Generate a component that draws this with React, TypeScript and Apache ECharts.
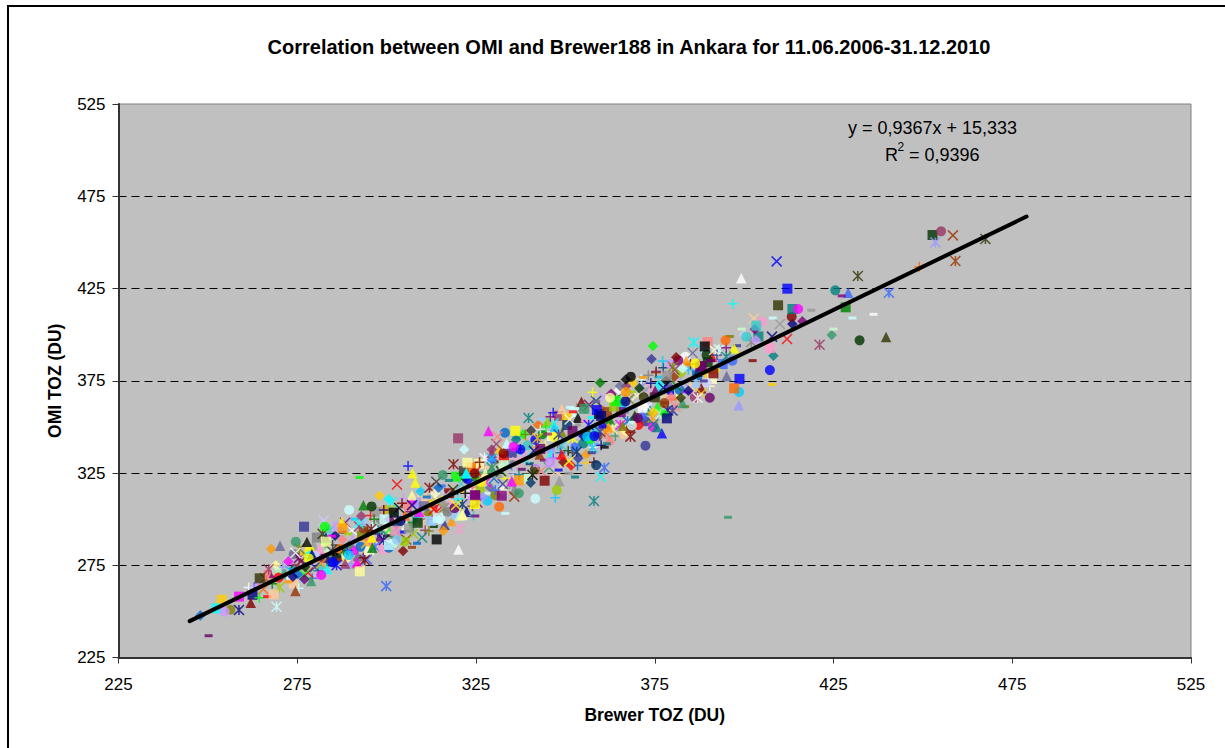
import React, { useEffect, useRef } from "react";
import * as echarts from "echarts";

const titleText = "Correlation between OMI and Brewer188 in Ankara for 11.06.2006-31.12.2010";
const xAxisName = "Brewer TOZ (DU)";
const yAxisName = "OMI TOZ (DU)";
const equationText = "y = 0,9367x + 15,333";
const r2Text = "= 0,9396";

const trendBrewer = [244.9, 479];
const trendOmi = [244.7, 464];

// Marks that can be told apart in the picture: [Brewer, OMI]
const squarePoints = [[452.7,454],[412.1,424.9],[409.5,415.9],[413.5,413.9],[428.4,414.8],[407.2,392.7],[389.8,396],[389,393.6],[391.4,379],[398.7,376],[397.2,370.9],[388.2,383],[403.4,404.9],[320,343.8],[336,347.9],[364.1,364],[355.3,359.8],[358.8,359.1],[360,355.9],[352,347.7],[345.8,330.6],[344.2,320.8],[378.4,377.7],[371.6,360.4],[378.4,354.6],[322.6,330.6],[332.7,329.3],[324.8,312.7],[332.2,312.7],[387.7,382.6],[276.9,295.9],[264.5,267.9],[253.9,256.3],[252.4,251.6],[258.7,258],[268.4,259.2],[292.5,271.7],[302,303.5],[302.4,293.7],[306.2,295],[308.7,298],[314.3,300.8],[299.4,299.9],[283,287.8],[287.7,295],[324.7,308.2],[324.7,313],[314,289],[300.6,286]];
const squareColors = ["#003300","#0000FF","#333300","#008080","#008000","#FF99CC","#FF8080","#000000","#800000","#0000FF","#FF6600","#660066","#33CCCC","#993366","#FFFF00","#00FF00","#339966","#0000FF","#000080","#660066","#CC99FF","#800000","#969696","#FFFFFF","#000080","#FFFF99","#CCFFCC","#660066","#800080","#660066","#333399","#333300","#FFCC00","#00FFFF","#FF00FF","#FFCC99","#FFFF99","#000000","#FF99CC","#969696","#003300","#CCFFFF","#CCFFFF","#FFFF99","#FF9900","#FFFF00","#800080","#000000","#CCFFFF"];

const circlePoints = [[455.1,456],[425.5,424],[413.3,409.7],[415.1,413.9],[432.3,396.9],[407.2,380.8],[400.6,398.9],[394.8,396.9],[398.6,368.9],[390.4,365.8],[389.5,374],[396.7,385.9],[333.1,346.8],[332.7,335.6],[337.4,337.8],[346.7,344.7],[356.1,344.7],[358.1,345],[362.5,365.8],[366.8,363.8],[366.9,368.9],[371.9,366],[377.7,362.9],[370.3,354.8],[368.6,350.8],[372.4,339.8],[347.6,315.8],[331.5,306.7],[341.6,311.1],[337,314],[324.6,324.8],[358.6,329.3],[315.7,323.9],[386.3,384.4],[335.5,339.2],[368.3,377.2],[256.3,250.9],[254.7,249.8],[295.8,306.9],[289.5,305],[282.7,295.9],[274.6,287.8],[281.7,269.7],[305,287.8],[300.6,284.5],[269.3,271.5],[269.8,268.3],[278.2,278.7],[285,276.6],[302.9,288.7],[289.4,280.5]];
const circleColors = ["#993366","#008080","#800000","#FF00FF","#003300","#0000FF","#33CCCC","#FF6600","#00CCFF","#660066","#CCCCFF","#3366FF","#0066CC","#800000","#0000FF","#FFFF00","#00CCFF","#0000FF","#FFFF99","#000080","#FF9900","#333300","#993300","#660066","#CCFFFF","#333399","#99CC00","#FF6600","#CCFFFF","#339966","#800000","#003366","#339966","#FFFF00","#FF00FF","#000000","#808000","#CC99FF","#003300","#CCFFFF","#00FF00","#339966","#FF00FF","#99CC00","#0066CC","#CCFFCC","#FF0000","#FFFF00","#0000FF","#99CCFF","#00CCFF"];

const trianglePoints = [[399.2,430.5],[429.1,422.7],[439.7,398.7],[397.2,392.6],[395.1,377.6],[398.5,361.7],[328.5,347.7],[349,359.7],[354.5,363.6],[362.1,349.7],[366,350.6],[377,346.5],[375.6,350],[383.8,385.7],[375.1,369.6],[348.3,320.6],[335,320.5],[322.2,324.8],[349,335],[321.2,302.2],[327.6,324.8],[329.4,327.5],[387,379.9],[320.1,283.6],[270.2,285.6],[262,254.7],[274.5,261],[278.9,266.5],[288.4,276],[291.7,276.6],[296,284.5],[293.5,307.5],[307.2,324.8],[308,319.8],[322.3,324.8],[321.3,302.6],[277.7,287.8],[279.1,281.1],[287.5,298.6]];
const triangleColors = ["#FFFFFF","#3366FF","#333300","#FFFF00","#666699","#9999FF","#FF00FF","#FFCC99","#800000","#FF9900","#808000","#0000FF","#008080","#FF9900","#660066","#969696","#FF00FF","#00FFFF","#FF0000","#FFFF99","#FFFF99","#339966","#003366","#FFFFFF","#666699","#800000","#993300","#339966","#993366","#FF00FF","#008000","#008000","#FFFF00","#FFFF00","#00FFFF","#FFFF99","#000000","#000080","#FFFF00"];

const diamondPoints = [[416.3,407.2],[413.5,405.8],[424.5,399.8],[408.2,388.6],[403,402.9],[403.3,397.1],[374.5,393.8],[374.1,386.8],[381,387.8],[359.7,373.9],[366.9,375.7],[365.3,372.1],[382.3,365.8],[340.3,319.7],[321.7,337.8],[374.6,357.9],[377.7,357],[370.7,370.9],[379.6,366],[384.4,369.6],[382.8,381.7],[329.4,337.8],[267.7,283.8],[298,312.7],[300.6,310.9],[315.9,293.7],[304.6,282.7],[247.9,247.7],[292.9,301.7],[273.8,268.8],[277,267.4]];
const diamondColors = ["#800080","#000080","#339966","#008080","#800080","#CC99FF","#00FF00","#333399","#800000","#008000","#000000","#666699","#333300","#003366","#CCFFFF","#FFCC00","#00FF00","#003300","#FF8080","#000080","#CCFFFF","#993366","#FF9900","#FFCC00","#00FFFF","#FF9900","#800000","#0066CC","#993366","#000080","#660066"];

const crossPoints = [[409.1,439.7],[458.4,453.8],[402.7,408.8],[410,405.8],[407.8,398.9],[412,397.6],[391.6,391.7],[359.9,323],[346.7,351.9],[351.2,354],[335.7,312.2],[351,331.5],[329.4,333],[374.6,351.5],[330.7,340.7],[331,344.7],[377.4,371.2],[302.9,318.8],[313.9,320.3],[294.5,278.2],[309.9,290],[282.4,299.2],[274.5,281.8],[319.4,307.6],[313.2,305.3],[307.1,307.6],[292.2,297.7]];
const crossColors = ["#0000FF","#993300","#FFCC99","#969696","#000080","#FF0000","#FFFFCC","#00FFFF","#00FFFF","#FFFFFF","#993300","#FFFF00","#00CCFF","#008080","#993366","#FF8080","#000080","#FF0000","#333333","#3366FF","#008080","#CCCCFF","#FFFFFF","#FFFF00","#FF0000","#000080","#00FFFF"];

const starPoints = [[431.8,431.8],[453.5,450],[459.1,439.9],[467.5,451.8],[440.5,422.7],[421.1,394.5],[395,388],[339.7,354.8],[385.9,395.8],[368.2,344.7],[360.9,327.9],[358,309.8],[359.7,347.4],[318.7,329.7],[380.1,382.6],[380,358.8],[342.2,343.8],[348.1,345.9],[357.6,338.7],[387,365.8],[329.4,327.9],[353.2,336.5],[299.9,263.7],[269.2,252.5],[258.7,250.7],[267,272.8],[320.4,294.8],[293.9,277.8],[295.7,294.6],[299.2,288.7]];
const starColors = ["#333300","#9999FF","#993300","#333300","#3366FF","#993366","#008080","#008080","#00FFFF","#800000","#3366FF","#008080","#333399","#800000","#808000","#333399","#FFCC00","#333399","#00CCFF","#FFFFFF","#339966","#003366","#3366FF","#CCFFFF","#000080","#993366","#FF99CC","#800000","#800000","#000080"];

const plusPoints = [[396.8,416.8],[449,436.8],[395,392.9],[392.4,389],[357.6,368.7],[346.6,357.7],[326,330.8],[353.4,329],[355.8,330.6],[358,330.8],[377.2,385.7],[375.3,379.4],[347.2,311.6],[343,348.6],[338.8,345.9],[373.9,373.6],[345.8,355.5],[330.4,315.8],[306,328.8],[264.4,257.4],[261.4,263],[275.4,262.5],[299.2,305],[324.3,301.9],[311.8,293.5],[304.3,308.6]];
const plusColors = ["#00FFFF","#FF6600","#800080","#333399","#FFFF00","#0000FF","#800000","#0066CC","#FFCC00","#800000","#00CCFF","#993300","#00CCFF","#CCFFFF","#808000","#000080","#800080","#3366FF","#0000FF","#00FF00","#FFFFFF","#CCFFFF","#000080","#33CCCC","#808000","#800000"];

const dashPoints = [[436.2,411],[430.3,409],[425,403],[418.8,413.2],[408,409],[399.3,403],[396,399],[407.8,373],[402.4,385.9],[427.3,421],[390.5,386],[388.7,374.9],[395.5,301],[358.6,363.8],[351.3,360.6],[352.1,358.2],[361,339],[361.6,340.9],[352.7,322.8],[350.9,324.8],[348.1,326.6],[345.1,346.1],[343.4,354],[336.3,344],[357.4,336],[371.7,376.8],[390.7,385.9],[333.2,303.1],[324.8,301.7],[292.4,322.6],[250.2,236.8],[266.6,258],[308.5,286.9],[307.1,284.7],[284.7,290.8]];
const dashColors = ["#FFFFFF","#CCFFFF","#CCFFCC","#969696","#CCFFFF","#CCFFCC","#808000","#FFCC00","#800000","#800080","#660066","#333399","#339966","#666699","#CCFFFF","#FF0000","#000000","#008080","#008080","#969696","#0000FF","#993366","#99CCFF","#008080","#333399","#FF9900","#660066","#CCFFFF","#800080","#00FF00","#660066","#FF0000","#0066CC","#993300","#FF00FF"];

// The dense band along the regression line
const cloudBrewer = [262.5,263,264,265.5,266,267,268,268.5,269,270,270.5,271,272,272.5,273,274,274,274.5,275.2,275.6,276,276.4,276.8,277.2,277.6,278,278.4,278.8,279.2,279.6,279.9,280.2,280.5,280.9,281.3,281.7,282.1,282.5,282.9,283.3,283.7,284.1,284.5,284.9,285.2,285.6,286,286.4,286.8,287.2,287.6,288,288.4,288.8,289.2,289.6,289.9,290.3,290.7,291.1,291.5,291.9,292.3,292.7,293.1,293.5,293.9,294.3,294.7,295.1,295.5,295.9,296.3,296.7,297.1,297.5,297.9,298.3,298.7,299.1,299.5,300.3,300.7,301.1,301.5,301.9,302.3,302.7,303.1,303.5,303.9,304.3,304.7,305.1,305.5,305.9,306.3,306.7,307.1,307.5,307.9,308.3,308.7,309.1,309.5,310,310.4,310.8,311.2,311.6,312,312.4,312.8,313.2,313.6,314,314.4,315,315.4,315.8,316.2,316.6,317,317.4,317.8,318.2,318.6,319,319.4,320,320.4,320.8,321.2,321.6,322,322.4,322.8,323.2,323.6,324,324.4,325,325.4,325.8,326.2,326.6,327,327.4,327.8,328.2,328.6,329,329.4,330,330.4,330.8,331.2,331.6,332,332.4,332.8,333.2,333.6,334,334.4,335,335.4,335.8,336.2,336.6,337,337.4,337.8,338.2,338.6,339,339.4,340,340.4,340.8,341.2,341.6,342,342.4,342.8,343.2,343.6,344,344.4,345,345.4,345.8,346.2,346.6,347,347.4,347.8,348.2,348.6,349,349.4,350,350.4,350.8,351.2,351.6,352,352.4,352.8,353.2,353.6,354,354.4,355,355.4,355.8,356.2,356.6,357,357.4,357.8,358.2,358.6,359,359.4,360,360.4,360.8,361.2,361.6,362,362.4,362.8,363.2,363.6,364,364.4,365,365.4,365.8,366.2,366.6,367,367.4,367.8,368.2,368.6,369,369.4,370,370.4,370.8,371.2,371.6,372,372.4,372.8,373.2,373.6,374,374.4,375,375.4,375.8,376.2,376.6,377,377.4,377.8,378.2,378.6,379,379.4,380,380.4,380.8,381.2,381.6,382,382.4,382.8,383.2,383.6,384,384.4,385,385.6,386.2,386.8,387.4,388,388.6,389.2,389.8,390.4,391,392,393,394,396,398,400,402,404,405,272.5,274,275.5,277,278.5,280,281.5,283,284.5,286,287.5,289,290.5,292,293.5,295,296.5,298,299.5,301,302.5,304,305.5,307,308.5,310,311.5,313,314.5,316,317.5,319,320.5,322,323.5,325,326.5,328,329.5,331,332.5,334,335.5,337,338.5,340,341.5,343,344.5,346,347.5,349,350.5,352,353.5,355,356.5,358,359.5,361,362.5,364,365.5,367,368.5,370,371.5,373,374.5,376,377.5,379,380.5,382,383.5,385,386.5,388,389.5,391];
const cloudOmi = [259,263,266,262,268,270,265,271,275,263,270,274,268,277,272,265,281,275,270,284,277,268,281,274,288,271,283,277,268,286,274,280,290,272,284,276,292,279,287,273,282,294,277,286,281,291,275,296,284,278,289,283,298,279,292,286,276,294,283,300,288,280,296,285,291,279,299,287,293,283,302,290,296,285,304,292,287,299,294,284,305,291,300,295,309,287,303,297,290,306,299,293,311,302,289,307,296,304,313,292,300,309,296,304,315,298,307,294,312,303,317,299,308,296,314,304,310,300,318,308,297,313,304,321,309,299,316,306,323,311,302,319,308,326,314,304,321,311,328,307,317,322,309,330,316,325,312,333,320,310,328,317,336,322,313,331,318,338,326,316,334,322,341,329,319,336,325,316,343,331,321,338,327,346,333,322,340,330,348,324,337,343,329,351,335,326,346,332,340,353,328,338,345,333,350,326,341,356,336,347,331,342,355,337,349,329,344,358,339,351,333,346,360,341,353,335,348,362,343,355,339,350,364,345,357,340,352,366,347,358,344,354,368,349,361,345,356,370,351,362,346,358,372,353,365,349,360,374,356,367,351,362,376,357,369,353,364,378,359,371,355,366,380,361,373,357,368,382,363,375,359,370,384,365,377,361,372,386,367,379,363,374,388,369,381,372,390,366,378,384,371,392,377,385,372,388,381,392,384,389,394,400,396,399,407,266,273,279,270,280,284,274,290,283,279,293,283,289,276,295,288,300,290,295,305,292,300,297,309,302,312,300,307,317,306,314,302,315,322,314,326,320,314,332,325,319,337,331,324,335,341,327,338,350,335,345,340,351,336,355,345,351,341,361,350,342,365,358,348,369,355,372,361,350,377,367,374,381,370,361,384,374,368,389,376];

const excelPalette = ["#000080","#FF00FF","#FFFF00","#00FFFF","#800080","#800000","#008080","#0000FF","#00CCFF","#CCFFFF","#CCFFCC","#FFFF99","#99CCFF","#FF99CC","#CC99FF","#FFCC99","#3366FF","#33CCCC","#99CC00","#FFCC00","#FF9900","#FF6600","#666699","#969696","#003366","#339966","#003300","#333300","#993300","#993366","#333399","#333333","#9999FF","#FFFFCC","#660066","#FF8080","#0066CC","#CCCCFF","#000000","#FFFFFF","#FF0000","#00FF00","#008000","#808000","#808080"];

const SYMBOL_X = "path://M0 0L10 10M10 0L0 10";
const SYMBOL_STAR = "path://M0 0L10 10M10 0L0 10M5 0L5 10";
const SYMBOL_PLUS = "path://M5 0L5 10M0 5L10 5";

const filled = (symbol: string, size: number | number[]) => (c: string) => ({
  symbol, symbolSize: size, itemStyle: { color: c, borderWidth: 0 },
});
const stroked = (symbol: string, size: number) => (c: string) => ({
  symbol, symbolSize: size, itemStyle: { color: "rgba(0,0,0,0)", borderColor: c, borderWidth: 1.5 },
});

const styleSquare = filled("rect", 10);
const styleCircle = filled("circle", 10);
const styleTriangle = filled("triangle", 10.5);
const styleDiamond = filled("diamond", 10.5);
const styleDash = filled("rect", [8, 3]);
const styleCross = stroked(SYMBOL_X, 10);
const styleStar = stroked(SYMBOL_STAR, 10);
const stylePlus = stroked(SYMBOL_PLUS, 10);

const cloudStyles = [styleSquare, styleCross, styleDiamond, stylePlus, styleCircle, styleStar, styleTriangle, styleDash];

function buildMarks() {
  const n = cloudBrewer.length;
  const cloud = cloudBrewer.map((x, i) => ({
    order: (i * 97) % n,
    value: [x, cloudOmi[i]],
    ...cloudStyles[(i * 3 + (i >> 2)) % cloudStyles.length](excelPalette[(i * 7) % excelPalette.length]),
  }));
  cloud.sort((a, b) => a.order - b.order);

  const groups: [number[][], string[], (c: string) => any][] = [
    [squarePoints, squareColors, styleSquare],
    [crossPoints, crossColors, styleCross],
    [diamondPoints, diamondColors, styleDiamond],
    [plusPoints, plusColors, stylePlus],
    [circlePoints, circleColors, styleCircle],
    [starPoints, starColors, styleStar],
    [trianglePoints, triangleColors, styleTriangle],
    [dashPoints, dashColors, styleDash],
  ];
  const known: any[] = [];
  const longest = Math.max(...groups.map((g) => g[0].length));
  for (let i = 0; i < longest; i++) {
    for (const [pts, cols, st] of groups) {
      if (i < pts.length) known.push({ value: pts[i], ...st(cols[i]) });
    }
  }
  return [...cloud.map(({ order, ...rest }) => rest), ...known];
}

const FONT = '"Liberation Sans", Arial, sans-serif';

export default function App() {
  const ref = useRef<HTMLDivElement>(null);
  useEffect(() => {
    document.body.style.margin = "0";
    const chart = echarts.init(ref.current!, null, { renderer: "svg" });
    const axisBase = {
      type: "value" as const,
      min: 225,
      max: 525,
      interval: 50,
      nameLocation: "middle" as const,
      nameTextStyle: { fontFamily: FONT, fontSize: 17.5, fontWeight: "bold" as const, color: "#000" },
      axisLine: { show: true, onZero: false, lineStyle: { color: "#333333", width: 2 } },
      axisTick: { show: true, length: 6, lineStyle: { color: "#333333", width: 1 } },
      axisLabel: { fontFamily: FONT, fontSize: 17, color: "#000", margin: 18 },
    };
    chart.setOption({
      animation: false,
      backgroundColor: "#fff",
      title: {
        text: titleText,
        left: 624,
        top: 32,
        textAlign: "center",
        textStyle: { fontFamily: FONT, fontSize: 20, fontWeight: "bold", color: "#000" },
      },
      grid: {
        left: 118.5,
        top: 104,
        width: 1072.5,
        height: 553.5,
        show: true,
        backgroundColor: "#C0C0C0",
        borderColor: "#808080",
        borderWidth: 1,
      },
      xAxis: {
        ...axisBase,
        name: xAxisName,
        nameGap: 48,
        splitLine: { show: false },
      },
      yAxis: {
        ...axisBase,
        name: yAxisName,
        nameGap: 55,
        axisLabel: { ...axisBase.axisLabel, margin: 13 },
        splitLine: { show: true, showMinLine: false, showMaxLine: false, lineStyle: { color: "#000", width: 1, type: [8, 5] } },
      },
      series: [
        { type: "scatter", data: buildMarks(), silent: true, z: 3 },
        {
          type: "line",
          data: trendBrewer.map((x, i) => [x, trendOmi[i]]),
          symbol: "none",
          silent: true,
          z: 4,
          lineStyle: { color: "#000", width: 4, cap: "round" },
        },
      ],
      graphic: [
        { type: "line", silent: true, shape: { x1: 8, y1: 6, x2: 8, y2: 760 }, style: { stroke: "#000", lineWidth: 2 } },
        { type: "line", silent: true, shape: { x1: 7, y1: 6, x2: 1240, y2: 6 }, style: { stroke: "#000", lineWidth: 2 } },
        {
          type: "text", silent: true, z: 10, x: 932.5, y: 128,
          style: { text: equationText, fontFamily: FONT, fontSize: 18, fill: "#000", align: "center", verticalAlign: "middle" },
        },
        {
          type: "text", silent: true, z: 10, x: 885, y: 155,
          style: { text: "R", fontFamily: FONT, fontSize: 18, fill: "#000", align: "left", verticalAlign: "middle" },
        },
        {
          type: "text", silent: true, z: 10, x: 897.5, y: 147,
          style: { text: "2", fontFamily: FONT, fontSize: 12, fill: "#000", align: "left", verticalAlign: "middle" },
        },
        {
          type: "text", silent: true, z: 10, x: 909, y: 155,
          style: { text: r2Text, fontFamily: FONT, fontSize: 18, fill: "#000", align: "left", verticalAlign: "middle" },
        },
      ],
    });
    return () => chart.dispose();
  }, []);
  return <div ref={ref} style={{ position: "absolute", left: 0, top: 0, width: 1225, height: 748 }} />;
}
